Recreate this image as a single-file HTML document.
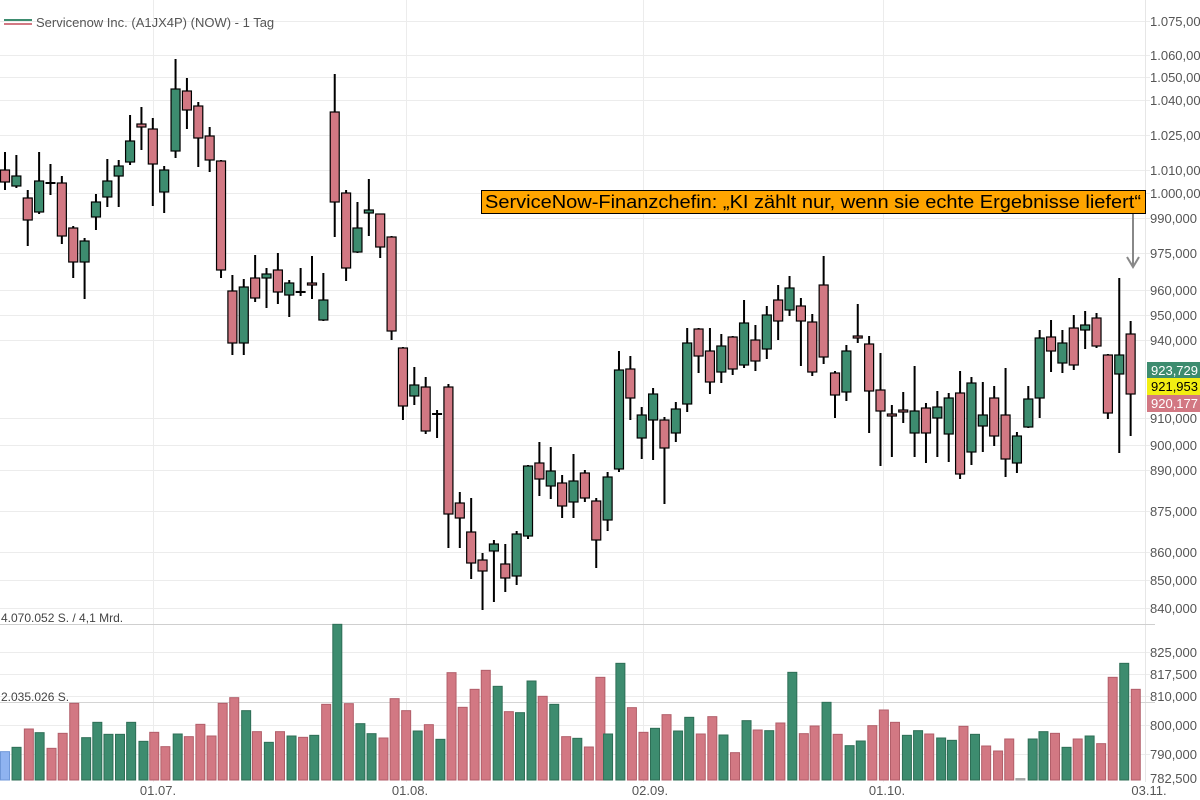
<!DOCTYPE html>
<html><head><meta charset="utf-8"><style>
html,body{margin:0;padding:0;background:#fff;}
svg{display:block;font-family:"Liberation Sans",Arial,sans-serif;}
</style></head><body>
<svg id="c" width="1200" height="800" viewBox="0 0 1200 800" xmlns="http://www.w3.org/2000/svg">
<g id="grid" stroke="#ececec" stroke-width="1"></g>
<line x1="153.5" y1="0" x2="153.5" y2="782" stroke="#ececec"/>
<line x1="406.5" y1="0" x2="406.5" y2="782" stroke="#ececec"/>
<line x1="643.5" y1="0" x2="643.5" y2="782" stroke="#ececec"/>
<line x1="883.5" y1="0" x2="883.5" y2="782" stroke="#ececec"/>
<line x1="1145.5" y1="0" x2="1145.5" y2="782" stroke="#e6e6e6"/>
<line x1="0" y1="624.5" x2="1155" y2="624.5" stroke="#cfcfcf"/>
<line x1="0" y1="702.5" x2="1155" y2="702.5" stroke="#d4d4d4"/>
<g id="vol"></g>
<g id="cand"></g>
<g id="ylab" font-size="13" fill="#555"></g>
<g font-size="13" fill="#555" text-anchor="middle">
<text x="158" y="795">01.07.</text>
<text x="410" y="795">01.08.</text>
<text x="650" y="795">02.09.</text>
<text x="887" y="795">01.10.</text>
<text x="1149" y="795">03.11.</text>
</g>
<text x="1" y="622" font-size="12" fill="#444">4.070.052 S. / 4,1 Mrd.</text>
<text x="1" y="701" font-size="12" fill="#444">2.035.026 S.</text>
<line x1="4" y1="20" x2="32" y2="20" stroke="#3d8c6f" stroke-width="2"/>
<line x1="4" y1="24" x2="32" y2="24" stroke="#d27883" stroke-width="2"/>
<text x="36" y="27" font-size="13" fill="#555">Servicenow Inc. (A1JX4P) (NOW) - 1 Tag</text>
<rect x="481.5" y="190.5" width="664" height="23" fill="#ffa500" stroke="#000"/>
<text x="485" y="208" font-size="18" fill="#000" textLength="656" lengthAdjust="spacingAndGlyphs">ServiceNow-Finanzchefin: „KI zählt nur, wenn sie echte Ergebnisse liefert“</text>
<line x1="1133" y1="214" x2="1133" y2="267" stroke="#888" stroke-width="2"/>
<polyline points="1127,257 1133,267 1139,257" fill="none" stroke="#888" stroke-width="2"/>
<rect x="1147" y="362" width="53" height="16" fill="#3d8c6f"/>
<text x="1198" y="375" font-size="13" fill="#fff" text-anchor="end">923,729</text>
<rect x="1147" y="378" width="53" height="17" fill="#f2ee12"/>
<text x="1198" y="391" font-size="13" fill="#000" text-anchor="end">921,953</text>
<rect x="1147" y="395" width="53" height="17" fill="#d27883"/>
<text x="1198" y="408" font-size="13" fill="#fff" text-anchor="end">920,177</text>
</svg>
<script>
var NS="http://www.w3.org/2000/svg";
function el(p,t,a){var e=document.createElementNS(NS,t);for(var k in a)e.setAttribute(k,a[k]);p.appendChild(e);return e;}
var G="#3d8c6f",P="#d27883";
var grid=document.getElementById("grid"),yl=document.getElementById("ylab");
var labs=[["1.075,000",21],["1.060,000",55],["1.050,000",77],["1.040,000",100],["1.025,000",135],["1.010,000",170],["1.000,000",193],["990,000",218],["975,000",253],["960,000",290],["950,000",315],["940,000",340],["910,000",418],["900,000",445],["890,000",470],["875,000",511],["860,000",552],["850,000",580],["840,000",608],["825,000",652],["817,500",674],["810,000",696],["800,000",725],["790,000",754],["782,500",778]];
labs.forEach(function(l){
 if(l[1]<770) el(grid,"line",{x1:0,y1:l[1]+0.5,x2:1150,y2:l[1]+0.5});
 var t=el(yl,"text",{x:1150,y:l[1]+5});t.textContent=l[0];
});
var C=[
"p 170 182 152 190","g 176 186 155 188","p 198 220 190 246","g 181 212 152 214","d 183 184 164 195","p 183 236 176 244","p 228 262 226 278","g 241 262 238 299","g 202 217 194 230","g 181 197 159 207",
"g 166 176 160 207","g 141 162 115 165","p 124 127 107 150","p 129 164 118 206","g 170 192 166 213","g 89 151 59 158","p 91 110 78 129","p 106 138 102 167","p 136 160 127 172","p 161 270 160 278",
"p 291 343 275 355","g 287 343 279 355","p 278 298 255 302","g 274 278 268 308","p 270 292 253 304","g 283 295 280 317","d 292 293 268 296","p 283 285 256 299","g 300 320 273 321","p 112 202 74 237",
"p 193 268 190 281","g 228 252 202 253","g 210 213 179 236","p 214 247 214 258","p 237 331 236 340","p 348 406 347 420","g 385 396 367 405","p 387 431 377 434","d 414 415 410 438","p 387 514 384 548",
"p 503 518 492 548","p 532 563 498 579","p 560 571 553 610","g 544 551 540 602","p 564 578 544 592","g 534 576 531 585","g 466 536 465 539","p 463 479 442 496","g 471 486 447 499","p 483 506 475 518",
"g 481 502 454 518","p 473 498 470 502","p 501 540 498 568","g 477 520 472 531","g 370 469 351 472","p 369 398 356 420","g 415 438 407 459","g 394 420 388 460","p 420 448 417 504","g 409 433 402 442",
"g 343 404 328 412","p 329 356 328 373","p 351 382 328 394","g 346 372 334 383","p 337 369 336 375","g 323 365 300 368","p 340 361 325 371","g 315 349 306 359","p 300 321 285 340","g 288 310 276 316",
"p 306 321 298 366","p 322 372 314 376","p 285 357 256 364","p 373 395 371 418","g 351 392 345 401","p 336 338 304 343","p 344 391 336 433","p 390 411 353 466","p 414 416 405 457","p 410 412 392 423",
"g 411 433 366 457","p 408 433 403 463","g 407 418 391 457","g 398 434 393 462","p 393 474 371 479","g 383 452 377 465","g 415 426 382 452","p 398 436 386 446","p 415 459 368 477","g 436 463 432 473",
"g 399 427 386 428","g 338 398 330 418","p 337 351 320 372","g 343 363 330 373","p 328 365 315 370","g 325 330 311 349","p 318 346 313 348","p 355 413 354 419","g 355 374 278 453","p 334 394 321 436"];
var cg=document.getElementById("cand");
C.forEach(function(s,i){
 var a=s.split(" "),x=5+i*11.37,bt=+a[1],bb=+a[2],wt=+a[3],wb=+a[4];
 el(cg,"line",{x1:x,y1:wt,x2:x,y2:wb,stroke:"#000","stroke-width":2});
 if(a[0]=="d"){el(cg,"line",{x1:x-5,y1:bt,x2:x+5,y2:bt,stroke:"#000","stroke-width":2});}
 else el(cg,"rect",{x:x-4.5,y:bt,width:9,height:Math.max(bb-bt,2),fill:a[0]=="g"?G:P,stroke:"#000","stroke-width":1.2});
});
var V1=[[0,"b",455],[30,"g",442],[62,"p",387],[90,"g",398],[121,"p",445],[150,"p",400],[180,"p",310],[211,"g",413],[240,"g",367],[269,"g",403],[299,"g",403],[328,"g",367],[360,"g",424],[388,"p",397],[417,"p",440],[449,"g",402],[478,"p",410],[508,"p",373],[537,"p",408],[566,"p",310],[596,"p",293],[627,"g",332],[655,"p",395],[686,"g",427],[715,"p",395],[745,"g",408],[775,"p",412],[804,"g",406],[835,"p",313],[864,"g",73],[894,"p",311],[924,"g",371],[953,"g",401],[984,"p",414],[1013,"p",296],[1043,"p",332],[1073,"g",393],[1102,"p",374],[1132,"g",418],[1161,"p",218],[1190,"p",322],[1221,"p",268],[1250,"p",211],[1281,"g",259],[1310,"p",335],[1339,"g",338],[1369,"g",243],[1398,"p",289],[1428,"g",313],[1459,"p",410],[1488,"g",415],[1518,"p",441],[1548,"p",232]];
var V2=[[8,"g",402],[40,"g",190],[70,"p",323],[100,"p",397],[130,"g",385],[160,"p",344],[190,"g",393],[219,"g",352],[249,"p",402],[279,"p",350],[308,"g",405],[338,"p",458],[368,"g",362],[397,"p",390],[427,"g",392],[456,"p",369],[487,"g",217],[517,"p",401],[545,"p",378],[576,"g",307],[605,"p",403],[636,"g",437],[665,"g",423],[695,"p",377],[725,"p",330],[754,"p",367],[785,"g",406],[814,"g",392],[843,"p",402],[874,"g",414],[902,"g",421],[932,"p",379],[962,"g",403],[991,"p",438],[1022,"p",453],[1051,"p",417],[1080,"x",536],[1112,"g",417],[1140,"g",395],[1170,"p",400],[1200,"g",442],[1229,"p",417],[1260,"g",408],[1290,"p",431],[1320,"p",232],[1350,"g",190],[1380,"p",268]];
var vg=document.getElementById("vol");
function bar(x,c,t){
 var y=600+t/3,fill=c=="g"?G:c=="p"?P:c=="b"?"#8fb3f0":"#bbb",st=c=="g"?"#2e6e56":c=="p"?"#b25e69":c=="b"?"#6f97d8":"#999";
 el(vg,"rect",{x:x+0.5,y:y,width:9,height:Math.max(780-y,1),fill:fill,stroke:st,"stroke-width":1});
}
V1.forEach(function(v){bar(v[0]/2.6,v[1],v[2]);});
V2.forEach(function(v){bar(600+v[0]/2.6,v[1],v[2]);});
</script>
</body></html>
